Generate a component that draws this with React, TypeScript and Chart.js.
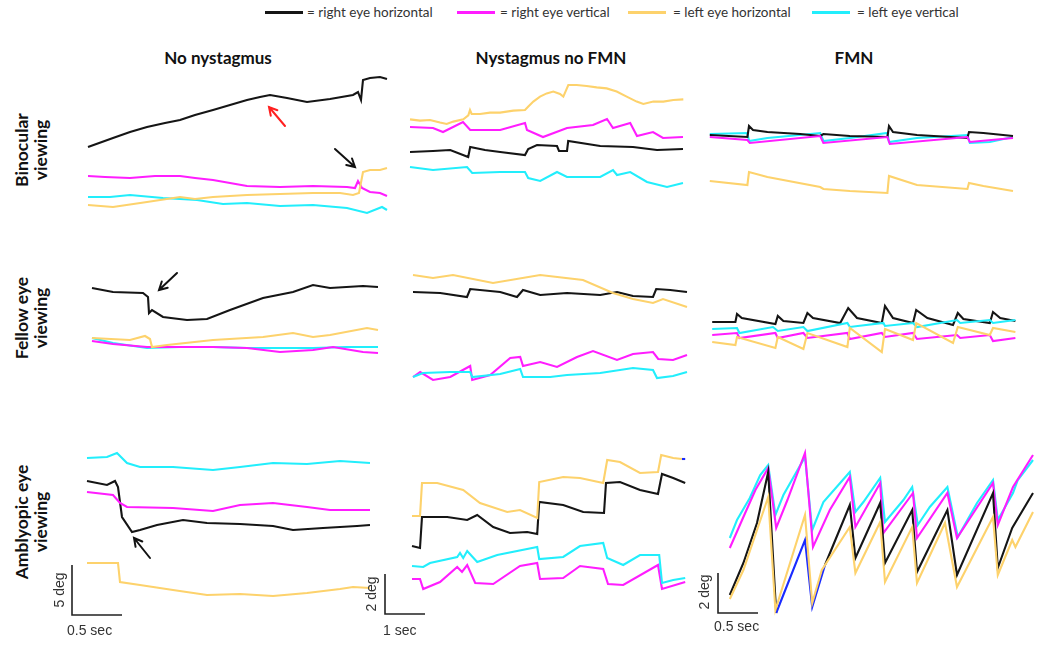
import React, { useEffect, useRef } from "react";
import { Chart, registerables } from "chart.js";

Chart.register(...registerables);

type P = [number, number];

// ---------- Binocular viewing ----------
// No nystagmus (x: sec, y: deg)
const binNoNysRH: P[] = [[0.03,7.3],[0.28,8.2],[0.45,8.8],[0.62,9.3],[0.8,9.7],[0.95,10.0],[1.1,10.5],[1.28,11.0],[1.45,11.5],[1.62,12.0],[1.75,12.3],[1.85,12.5],[2.02,12.2],[2.22,11.8],[2.45,12.1],[2.68,12.5],[2.73,12.8],[2.76,12.0],[2.78,14.0],[2.85,14.2],[2.95,14.3],[3.02,14.1]];
const binNoNysRV: P[] = [[0.03,4.4],[0.2,4.3],[0.45,4.2],[0.7,4.4],[0.95,4.4],[1.1,4.2],[1.28,4.0],[1.45,3.7],[1.62,3.4],[1.95,3.3],[2.28,3.4],[2.62,3.3],[2.7,3.2],[2.73,3.9],[2.77,3.2],[2.85,2.8],[2.95,2.7],[3.02,2.4]];
const binNoNysLH: P[] = [[0.03,1.5],[0.28,1.3],[0.62,1.8],[0.95,2.3],[1.1,2.1],[1.28,2.3],[1.62,2.5],[1.95,2.6],[2.28,2.7],[2.55,2.7],[2.68,2.5],[2.74,2.7],[2.78,4.8],[2.85,5.0],[2.95,5.0],[3.02,5.2]];
const binNoNysLV: P[] = [[0.03,2.3],[0.25,2.3],[0.45,2.5],[0.78,2.2],[1.12,2.0],[1.38,1.6],[1.62,1.7],[1.95,1.4],[2.28,1.5],[2.62,1.2],[2.82,0.7],[2.97,1.3],[3.02,1.0]];
// Nystagmus no FMN
const binNysRH: P[] = [[0.125,2.15],[0.7,2.2],[1.13,2.25],[1.58,1.9],[1.63,2.4],[2.0,2.25],[2.38,2.15],[3.0,2.0],[3.08,2.3],[3.3,2.5],[3.8,2.45],[3.85,2.2],[4.05,2.2],[4.08,2.7],[4.88,2.45],[5.7,2.4],[6.3,2.25],[6.95,2.3]];
const binNysRV: P[] = [[0.125,3.4],[0.7,3.35],[0.95,3.15],[1.45,3.65],[1.63,3.25],[2.38,3.25],[3.0,3.6],[3.05,3.25],[3.45,2.9],[4.05,3.35],[4.7,3.5],[5.05,3.8],[5.2,3.35],[5.63,3.6],[5.8,2.95],[6.2,3.15],[6.45,2.85],[6.95,2.9]];
const binNysLH: P[] = [[0.125,3.78],[0.375,3.72],[0.625,3.75],[0.875,3.62],[1.042,3.55],[1.208,3.67],[1.458,3.78],[1.583,3.98],[1.625,4.25],[1.667,4.05],[1.875,4.05],[2.125,4.12],[2.375,4.12],[2.708,4.22],[3.0,4.25],[3.083,4.42],[3.208,4.67],[3.375,4.92],[3.542,5.08],[3.708,5.17],[3.875,5.05],[3.958,4.92],[4.083,5.5],[4.292,5.5],[4.542,5.45],[4.792,5.38],[5.042,5.33],[5.292,5.17],[5.542,4.92],[5.792,4.67],[5.958,4.55],[6.208,4.67],[6.458,4.67],[6.708,4.75],[6.958,4.78]];
const binNysLV: P[] = [[0.125,1.4],[0.7,1.25],[1.55,1.4],[1.68,1.1],[2.38,1.15],[3.0,1.15],[3.08,0.85],[3.38,0.7],[3.8,1.15],[4.05,0.9],[4.88,0.9],[5.2,1.25],[5.3,1.0],[5.63,1.15],[6.05,0.65],[6.55,0.4],[6.95,0.6]];
// FMN
const binFmnRH: P[] = [[0.06,3.25],[0.53,3.15],[0.55,3.7],[0.6,3.5],[0.78,3.4],[1.19,3.3],[1.44,3.2],[1.48,3.3],[1.81,3.2],[2.28,3.15],[2.3,3.7],[2.35,3.4],[2.65,3.25],[3.28,3.1],[3.3,3.4],[3.48,3.35],[3.85,3.2]];
const binFmnRV: P[] = [[0.06,3.15],[0.53,3.0],[0.56,2.85],[1.44,3.2],[1.48,2.85],[2.28,3.15],[2.31,2.8],[3.28,3.15],[3.31,2.9],[3.85,3.1]];
const binFmnLH: P[] = [[0.06,0.95],[0.53,0.75],[0.55,1.4],[0.78,1.15],[1.44,0.65],[1.48,0.55],[1.81,0.45],[2.28,0.35],[2.3,1.2],[2.65,0.75],[3.28,0.55],[3.3,0.85],[3.48,0.7],[3.85,0.45]];
const binFmnLV: P[] = [[0.06,3.3],[0.53,3.35],[0.55,2.95],[0.78,3.1],[1.44,3.35],[1.48,2.95],[1.81,3.1],[2.28,3.35],[2.3,2.9],[2.65,3.1],[3.28,3.25],[3.31,2.85],[3.56,2.9],[3.85,3.15]];

// ---------- Fellow eye viewing ----------
const felNoNysRH: P[] = [[0.07,7.7],[0.28,7.3],[0.58,7.2],[0.63,6.8],[0.64,5.2],[0.67,5.5],[0.78,4.8],[1.02,4.5],[1.22,4.6],[1.45,5.5],[1.78,6.7],[2.08,7.3],[2.28,8.0],[2.45,7.7],[2.78,7.9],[2.93,7.8]];
const felNoNysRV: P[] = [[0.07,2.4],[0.28,2.1],[0.62,1.8],[0.95,1.8],[1.28,1.8],[1.62,1.7],[1.95,1.3],[2.28,1.5],[2.48,1.8],[2.78,1.3],[2.93,1.2]];
const felNoNysLH: P[] = [[0.07,2.7],[0.45,2.5],[0.6,2.9],[0.65,2.6],[0.67,1.8],[0.82,2.0],[1.28,2.5],[1.78,2.8],[2.08,3.2],[2.28,2.8],[2.45,3.0],[2.82,3.7],[2.93,3.5]];
const felNoNysLV: P[] = [[0.07,2.7],[0.28,2.2],[0.62,1.7],[0.95,1.8],[1.28,1.8],[1.62,1.7],[1.95,1.7],[2.28,1.7],[2.62,1.8],[2.93,1.8]];
const felNysRH: P[] = [[0.2,4.75],[0.88,4.7],[1.55,4.5],[1.63,4.9],[2.38,4.75],[2.8,4.5],[2.95,4.85],[3.38,4.6],[4.05,4.7],[4.88,4.6],[5.3,4.75],[5.7,4.55],[6.2,4.5],[6.28,4.9],[6.63,4.85],[7.05,4.75]];
const felNysRV: P[] = [[0.2,0.5],[0.38,0.75],[0.7,0.35],[1.13,0.5],[1.63,1.05],[1.68,0.35],[2.13,0.6],[2.63,1.45],[2.88,1.5],[2.95,1.05],[3.38,1.25],[3.8,1.0],[4.3,1.5],[4.7,1.8],[5.3,1.35],[5.7,1.65],[6.2,1.75],[6.33,1.4],[6.7,1.35],[7.05,1.6]];
const felNysLH: P[] = [[0.2,5.6],[0.7,5.45],[1.2,5.6],[2.2,5.2],[3.38,5.6],[4.45,5.35],[5.2,4.7],[5.7,4.4],[6.2,4.2],[6.45,4.4],[7.05,4.0]];
const felNysLV: P[] = [[0.2,0.5],[0.45,0.7],[1.13,0.75],[1.63,0.75],[1.68,0.5],[2.38,0.65],[2.88,0.9],[2.95,0.5],[3.63,0.5],[4.05,0.6],[4.88,0.7],[5.7,0.95],[6.2,0.85],[6.3,0.45],[6.7,0.55],[7.05,0.75]];
const felFmnRH: P[] = [[0.09,1.4],[0.38,1.4],[0.4,1.8],[0.46,1.6],[0.88,1.3],[0.91,1.7],[0.98,1.45],[1.23,1.35],[1.28,1.85],[1.35,1.6],[1.69,1.35],[1.79,2.1],[1.9,1.6],[2.21,1.35],[2.25,2.2],[2.35,1.6],[2.6,1.35],[2.64,2.0],[2.78,1.6],[3.1,1.25],[3.16,1.85],[3.23,1.55],[3.56,1.35],[3.6,1.9],[3.69,1.6],[3.88,1.45]];
const felFmnRV: P[] = [[0.09,0.75],[0.4,0.85],[0.43,0.6],[0.88,0.85],[0.91,0.6],[1.23,0.85],[1.28,0.6],[1.78,0.85],[1.81,0.55],[2.21,0.85],[2.25,0.65],[2.6,0.85],[2.65,0.55],[3.15,0.75],[3.19,0.6],[3.56,0.75],[3.6,0.45],[3.88,0.6]];
const felFmnLH: P[] = [[0.09,0.4],[0.38,0.25],[0.4,0.65],[0.88,0.1],[0.91,0.65],[1.23,0.05],[1.28,0.85],[1.78,0.15],[1.81,1.1],[2.21,-0.1],[2.25,1.05],[2.6,0.5],[2.64,1.35],[3.1,0.35],[3.16,1.15],[3.56,0.75],[3.6,1.1],[3.88,0.9]];
const felFmnLV: P[] = [[0.09,1.05],[0.4,1.1],[0.43,0.85],[0.85,1.15],[0.91,0.95],[1.23,1.15],[1.28,0.95],[1.78,1.35],[1.81,1.15],[2.23,1.35],[2.25,1.2],[2.6,1.35],[2.65,1.15],[3.15,1.5],[3.19,1.35],[3.56,1.5],[3.6,1.35],[3.88,1.5]];

// ---------- Amblyopic eye viewing ----------
const ambNoNysRH: P[] = [[0.27,13.9],[0.47,13.5],[0.55,13.9],[0.58,13.3],[0.62,10.3],[0.72,8.8],[0.8,9.0],[0.97,9.5],[1.23,10.0],[1.47,9.7],[1.8,9.6],[2.13,9.4],[2.33,9.0],[2.63,9.2],[2.97,9.4],[3.1,9.5]];
const ambNoNysRV: P[] = [[0.27,12.8],[0.53,12.5],[0.6,11.7],[0.67,11.3],[1.13,11.2],[1.53,10.9],[1.8,11.5],[2.13,11.7],[2.47,11.3],[2.7,11.0],[3.1,11.0]];
const ambNoNysLH: P[] = [[0.27,5.7],[0.58,5.7],[0.6,3.8],[0.8,3.5],[1.13,3.0],[1.47,2.5],[1.8,2.6],[2.13,2.4],[2.47,2.7],[2.8,3.1],[2.93,3.3],[3.1,3.2]];
const ambNoNysLV: P[] = [[0.27,16.2],[0.47,16.3],[0.57,16.7],[0.67,15.7],[0.8,15.3],[1.13,15.3],[1.53,15.0],[1.8,15.3],[2.13,15.7],[2.47,15.6],[2.8,15.9],[3.1,15.7]];
const ambNysRH: P[] = [[0.85,3.7],[1.05,3.6],[1.1,5.15],[1.73,5.15],[2.23,5.0],[2.48,5.25],[2.88,4.65],[3.3,4.35],[3.73,4.4],[3.98,4.3],[4.03,5.9],[4.63,5.75],[5.13,5.4],[5.65,5.35],[5.7,6.85],[6.05,6.9],[6.55,6.5],[7.0,6.3],[7.1,7.3],[7.38,7.1],[7.68,6.85]];
const ambNysRV: P[] = [[0.85,2.05],[1.05,2.05],[1.13,1.55],[1.55,1.9],[1.98,2.65],[2.1,2.4],[2.23,2.75],[2.43,1.85],[2.88,1.8],[3.55,2.7],[3.98,2.85],[4.05,2.05],[4.63,2.1],[5.05,2.7],[5.63,2.55],[5.75,1.8],[6.13,1.75],[7.0,2.75],[7.1,1.55],[7.68,1.9]];
const ambNysLH: P[] = [[0.85,5.2],[1.05,5.2],[1.1,6.85],[1.48,6.85],[2.13,6.5],[2.55,5.85],[3.23,5.4],[3.55,5.5],[3.98,5.1],[4.03,6.9],[4.63,7.15],[5.05,7.1],[5.63,6.85],[5.73,8.0],[6.05,7.9],[6.55,7.35],[7.0,7.4],[7.08,8.25],[7.38,8.1],[7.6,8.05],[7.68,8.05]];
const ambNysLV: P[] = [[0.85,2.7],[1.13,2.65],[1.3,2.85],[1.98,3.15],[2.05,3.35],[2.13,3.1],[2.23,3.45],[2.48,2.9],[2.98,3.25],[3.98,3.65],[4.03,3.05],[4.63,3.15],[5.05,3.7],[5.63,3.85],[5.73,3.1],[6.13,2.75],[6.55,3.25],[7.03,3.25],[7.1,1.85],[7.38,2.0],[7.68,2.1]];
const ambFmnRH: P[] = [[0.31,1.25],[0.48,2.85],[0.65,4.85],[0.79,7.4],[0.89,0.35],[1.25,4.0],[1.34,0.65],[1.5,2.75],[1.81,5.75],[1.88,3.1],[2.19,5.85],[2.25,2.85],[2.59,5.5],[2.65,2.4],[3.03,5.5],[3.15,2.25],[3.6,6.35],[3.66,2.6],[3.84,4.6],[4.1,6.35]];
const ambFmnRV: P[] = [[0.31,3.6],[0.48,5.15],[0.63,6.5],[0.79,7.6],[0.89,4.6],[1.03,6.0],[1.25,8.35],[1.35,3.65],[1.56,5.5],[1.81,7.15],[1.88,4.65],[2.19,6.85],[2.23,4.35],[2.6,6.35],[2.65,4.1],[3.03,6.35],[3.15,4.1],[3.6,6.85],[3.66,4.75],[3.85,6.65],[4.1,8.25]];
const ambFmnLH: P[] = [[0.31,1.05],[0.48,2.5],[0.79,6.15],[0.88,0.5],[1.25,5.25],[1.34,0.85],[1.46,2.5],[1.81,4.65],[1.88,2.35],[2.19,4.9],[2.25,1.9],[2.59,4.65],[2.65,1.85],[3.0,4.85],[3.15,1.65],[3.6,5.15],[3.66,2.25],[3.84,4.0],[3.88,3.65],[4.1,5.4]];
const ambFmnLV: P[] = [[0.31,4.1],[0.4,5.0],[0.56,6.1],[0.69,7.25],[0.79,7.75],[0.88,5.25],[0.98,6.25],[1.25,8.15],[1.34,4.5],[1.48,5.9],[1.81,7.4],[1.88,5.4],[1.98,5.9],[2.19,7.1],[2.25,4.9],[2.48,6.0],[2.59,6.65],[2.66,4.75],[2.81,5.65],[3.03,6.65],[3.16,4.15],[3.4,5.85],[3.6,7.0],[3.66,5.0],[3.85,6.35],[3.91,7.0],[4.1,8.0]];

// Scale bars (sec, deg) per column
const scaleNoNys: P[] = [[0.12,5.5],[0.12,0.5],[0.62,0.5]];
const scaleNys: P[] = [[0.175,2.3],[0.175,0.3],[1.175,0.3]];
const scaleFmn: P[] = [[0.1625,2.35],[0.1625,0.35],[0.6625,0.35]];

const legendLabels = ["= right eye horizontal", "= right eye vertical", "= left eye horizontal", "= left eye vertical"];
const columnTitles = ["No nystagmus", "Nystagmus no FMN", "FMN"];
const rowTitles = [["Binocular", "viewing"], ["Fellow eye", "viewing"], ["Amblyopic eye", "viewing"]];

const C_RH = "#151515";
const C_RV = "#ff1dff";
const C_LH = "#fdd26c";
const C_LV = "#22eefc";
const C_BLUE = "#1a2bff";
const legendColors = [C_RH, C_RV, C_LH, C_LV];

type Trace = { data: P[]; color: string; width?: number; blue?: [number, number] };
type Arrow = { from: P; to: P; color: string };
type Panel = {
  left: number; top: number; width: number; height: number;
  x: [number, number]; y: [number, number];
  traces: Trace[]; arrows?: Arrow[];
};

const four = (rh: P[], rv: P[], lh: P[], lv: P[], order: string[] = ["lh", "lv", "rv", "rh"]): Trace[] => {
  const m: Record<string, Trace> = {
    rh: { data: rh, color: C_RH }, rv: { data: rv, color: C_RV },
    lh: { data: lh, color: C_LH }, lv: { data: lv, color: C_LV },
  };
  return order.map((k) => m[k]);
};

const bar = (d: P[]): Trace => ({ data: d, color: "#222", width: 1.6 });

const panels: Panel[] = [
  { left: 85, top: 70, width: 305, height: 150, x: [0, 3.05], y: [0, 15],
    traces: four(binNoNysRH, binNoNysRV, binNoNysLH, binNoNysLV),
    arrows: [{ from: [2.0, 9.4], to: [1.84, 11.3], color: "#ff2020" }, { from: [2.5, 7.1], to: [2.7, 5.3], color: "#111" }] },
  { left: 85, top: 265, width: 305, height: 100, x: [0, 3.05], y: [0, 10],
    traces: four(felNoNysRH, felNoNysRV, felNoNysLH, felNoNysLV, ["lh", "rv", "lv", "rh"]),
    arrows: [{ from: [0.92, 9.2], to: [0.74, 7.5], color: "#111" }] },
  { left: 60, top: 440, width: 330, height: 180, x: [0, 3.3], y: [0, 18],
    traces: [...four(ambNoNysRH, ambNoNysRV, ambNoNysLH, ambNoNysLV), bar(scaleNoNys)],
    arrows: [{ from: [0.9, 6.2], to: [0.74, 8.2], color: "#111" }] },
  { left: 405, top: 75, width: 285, height: 120, x: [0, 7.125], y: [0, 6],
    traces: four(binNysRH, binNysRV, binNysLH, binNysLV) },
  { left: 405, top: 262, width: 285, height: 125, x: [0, 7.125], y: [0, 6.25],
    traces: four(felNysRH, felNysRV, felNysLH, felNysLV) },
  { left: 378, top: 445, width: 312, height: 175, x: [0, 7.8], y: [0, 8.75],
    traces: [{ data: ambNysLH, color: C_LH, blue: [7.59, 7.7] }, { data: ambNysLV, color: C_LV }, { data: ambNysRV, color: C_RV }, { data: ambNysRH, color: C_RH }, bar(scaleNys)] },
  { left: 705, top: 115, width: 315, height: 85, x: [0, 3.9375], y: [0, 4.25],
    traces: four(binFmnRH, binFmnRV, binFmnLH, binFmnLV, ["lh", "rv", "rh", "lv"]) },
  { left: 705, top: 290, width: 315, height: 70, x: [0, 3.9375], y: [-0.5, 3.0],
    traces: four(felFmnRH, felFmnRV, felFmnLH, felFmnLV) },
  { left: 705, top: 445, width: 340, height: 175, x: [0, 4.25], y: [0, 8.75],
    traces: [{ data: ambFmnLH, color: C_LH }, { data: ambFmnRH, color: C_RH, blue: [0.885, 1.505] }, { data: ambFmnRV, color: C_RV }, { data: ambFmnLV, color: C_LV }, bar(scaleFmn)] },
];

const arrowPlugin = {
  id: "arrows",
  afterDatasetsDraw(chart: any, _args: any, opts: any) {
    const list: Arrow[] = (opts && opts.list) || [];
    const { ctx, scales } = chart;
    list.forEach((a) => {
      const x1 = scales.x.getPixelForValue(a.from[0]);
      const y1 = scales.y.getPixelForValue(a.from[1]);
      const x2 = scales.x.getPixelForValue(a.to[0]);
      const y2 = scales.y.getPixelForValue(a.to[1]);
      const ang = Math.atan2(y2 - y1, x2 - x1);
      const h = 9;
      ctx.save();
      ctx.strokeStyle = a.color;
      ctx.lineWidth = 2;
      ctx.lineCap = "round";
      ctx.beginPath();
      ctx.moveTo(x1, y1);
      ctx.lineTo(x2, y2);
      ctx.moveTo(x2 - h * Math.cos(ang - 0.5), y2 - h * Math.sin(ang - 0.5));
      ctx.lineTo(x2, y2);
      ctx.lineTo(x2 - h * Math.cos(ang + 0.5), y2 - h * Math.sin(ang + 0.5));
      ctx.stroke();
      ctx.restore();
    });
  },
};

function PanelChart({ p }: { p: Panel }) {
  const ref = useRef<HTMLCanvasElement>(null);
  useEffect(() => {
    if (!ref.current) return;
    const chart = new Chart(ref.current, {
      type: "line",
      data: {
        datasets: p.traces.map((t) => ({
          data: t.data.map(([x, y]) => ({ x, y })),
          borderColor: t.color,
          borderWidth: t.width ?? 2.1,
          pointRadius: 0,
          tension: 0,
          fill: false,
          clip: false as any,
          segment: t.blue
            ? { borderColor: (c: any) => (c.p0.parsed.x >= t.blue![0] && c.p1.parsed.x <= t.blue![1] ? C_BLUE : undefined) }
            : undefined,
        })),
      },
      options: {
        animation: false,
        responsive: false,
        events: [],
        layout: { padding: 0 },
        plugins: { legend: { display: false }, tooltip: { enabled: false }, arrows: { list: p.arrows || [] } } as any,
        scales: {
          x: { type: "linear", min: p.x[0], max: p.x[1], display: false },
          y: { type: "linear", min: p.y[0], max: p.y[1], display: false },
        },
      },
      plugins: [arrowPlugin as any],
    });
    return () => chart.destroy();
  }, [p]);
  return (
    <canvas
      ref={ref}
      width={p.width}
      height={p.height}
      style={{ position: "absolute", left: p.left, top: p.top, width: p.width, height: p.height }}
    />
  );
}

const font = "Lato, 'Open Sans', sans-serif";

const legendPos = [
  { line: 265, text: 307 },
  { line: 457, text: 500 },
  { line: 628, text: 673 },
  { line: 812, text: 857 },
];
const titleCenters = [218, 551, 854];
const rowCenters = [150, 318, 522];

function Rotated({ cx, cy, children, style }: { cx: number; cy: number; children: any; style?: any }) {
  return (
    <div
      style={{
        position: "absolute", left: cx, top: cy, transform: "translate(-50%, -50%) rotate(-90deg)",
        whiteSpace: "nowrap", textAlign: "center", ...style,
      }}
    >
      {children}
    </div>
  );
}

const small = { fontSize: 14, color: "#333", fontFamily: "'Liberation Sans', Arial, sans-serif" };

export default function App() {
  return (
    <div style={{ position: "fixed", left: 0, top: 0, width: 1050, height: 647, background: "#fff", overflow: "hidden", fontFamily: font }}>
      {legendLabels.map((l, i) => (
        <React.Fragment key={l}>
          <div style={{ position: "absolute", left: legendPos[i].line, top: 11, width: 38, height: 2.5, background: legendColors[i] }} />
          <div style={{ position: "absolute", left: legendPos[i].text, top: 4, fontSize: 13.5, color: "#333", whiteSpace: "nowrap" }}>{l}</div>
        </React.Fragment>
      ))}
      {columnTitles.map((t, i) => (
        <div key={t} style={{ position: "absolute", left: titleCenters[i], top: 47, transform: "translateX(-50%)", fontSize: 17, fontWeight: 700, color: "#111", whiteSpace: "nowrap" }}>{t}</div>
      ))}
      {rowTitles.map((r, i) => (
        <Rotated key={r[0]} cx={31} cy={rowCenters[i]} style={{ fontSize: 17.5, fontWeight: 700, color: "#111", lineHeight: "19px" }}>
          {r[0]}<br />{r[1]}
        </Rotated>
      ))}
      {panels.map((p, i) => <PanelChart key={i} p={p} />)}
      <Rotated cx={59} cy={590} style={small}>5 deg</Rotated>
      <div style={{ position: "absolute", left: 67, top: 622, ...small }}>0.5 sec</div>
      <Rotated cx={371} cy={594} style={small}>2 deg</Rotated>
      <div style={{ position: "absolute", left: 383, top: 622, ...small }}>1 sec</div>
      <Rotated cx={704} cy={592} style={small}>2 deg</Rotated>
      <div style={{ position: "absolute", left: 714, top: 618, ...small }}>0.5 sec</div>
    </div>
  );
}
